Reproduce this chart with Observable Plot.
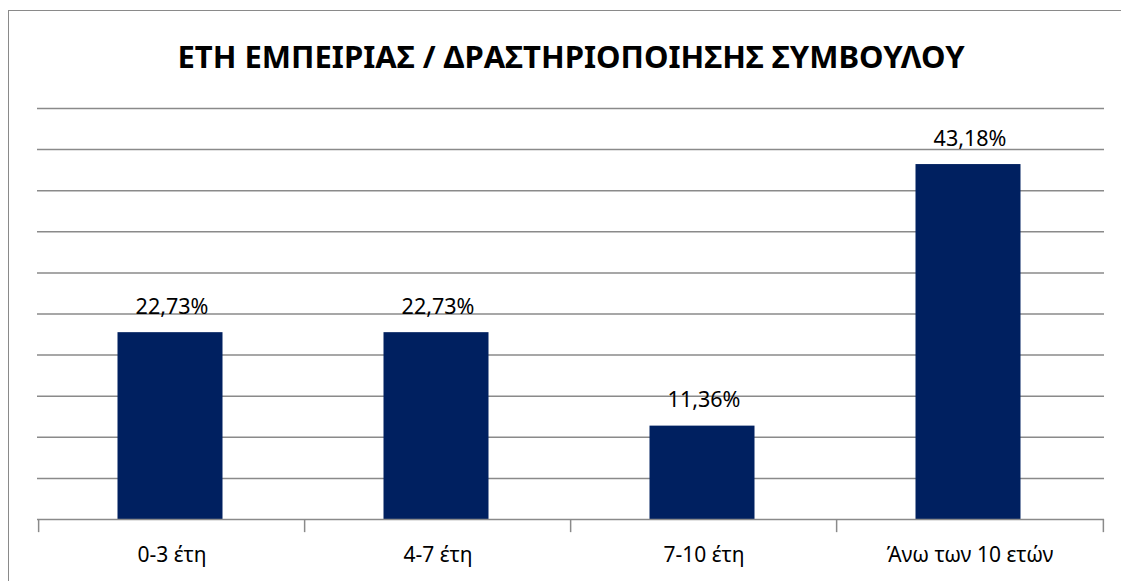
<!DOCTYPE html>
<html>
<head>
<meta charset="utf-8">
<script src="https://cdn.jsdelivr.net/npm/d3@7"></script>
<script src="https://cdn.jsdelivr.net/npm/@observablehq/plot@0.6"></script>
<style>
  html, body { margin: 0; padding: 0; background: #fff; overflow: hidden; width: 1121px; height: 581px; }
  #wrap { position: relative; width: 1121px; height: 581px; }
  #frame { position: absolute; left: 8px; top: 10px; width: 1300px; height: 800px; border-left: 1.5px solid #8a8a8a; border-top: 1.5px solid #8a8a8a; }
  #chart { position: absolute; left: 0; top: 0; }
</style>
</head>
<body>
<div id="wrap"><div id="frame"></div><div id="chart"></div></div>
<script>
const title = "ΕΤΗ ΕΜΠΕΙΡΙΑΣ / ΔΡΑΣΤΗΡΙΟΠΟΙΗΣΗΣ ΣΥΜΒΟΥΛΟΥ";
const categories = ["0-3 έτη", "4-7 έτη", "7-10 έτη", "Άνω των 10 ετών"];
const values = [22.73, 22.73, 11.36, 43.18];
const gridTicks = [5, 10, 15, 20, 25, 30, 35, 40, 45, 50];

const data = categories.map((c, i) => ({category: c, value: values[i]}));
const fmt = v => v.toFixed(2).replace(".", ",") + "%";
const font = "Noto Sans, Open Sans, sans-serif";
const W = 1121, H = 581, mL = 37, mR = 17, mT = 108, mB = 62;
const step = (W - mL - mR) / categories.length;

const chart = Plot.plot({
  width: W, height: H,
  marginLeft: mL, marginRight: mR, marginTop: mT, marginBottom: mB,
  style: {fontFamily: font, background: "transparent"},
  x: {domain: categories, padding: 0.606, paddingOuter: 0.303, align: 0.5},
  y: {domain: [0, 50]},
  marks: [
    Plot.ruleY(gridTicks, {stroke: "#8a8a8a", strokeWidth: 1.5, strokeOpacity: 1}),
    Plot.barY(data, {x: "category", y: "value", fill: "#002060", dx: -1.5}),
    Plot.ruleY([0], {stroke: "#8a8a8a", strokeWidth: 1.5}),
    Plot.ruleX(categories, {x: d => d, y1: 0, y2: -1.6, dx: -step / 2, stroke: "#8a8a8a", strokeWidth: 1.5}),
    Plot.ruleX([categories[categories.length - 1]], {x: d => d, y1: 0, y2: -1.6, dx: step / 2, stroke: "#8a8a8a", strokeWidth: 1.5}),
    Plot.text(data, {x: "category", y: "value", text: d => fmt(d.value), dy: -19, lineAnchor: "bottom", fontSize: 21.5, fill: "#000"}),
    Plot.axisX({tickSize: 0, tickPadding: 28, fontSize: 21, fill: "#000", label: null}),
    Plot.axisY({ticks: [], label: null}),
    Plot.text([title], {frameAnchor: "top", dy: -50, fontSize: 31, fontWeight: "bold", fill: "#000", lineAnchor: "middle"})
  ]
});
document.getElementById("chart").appendChild(chart);
</script>
</body>
</html>
